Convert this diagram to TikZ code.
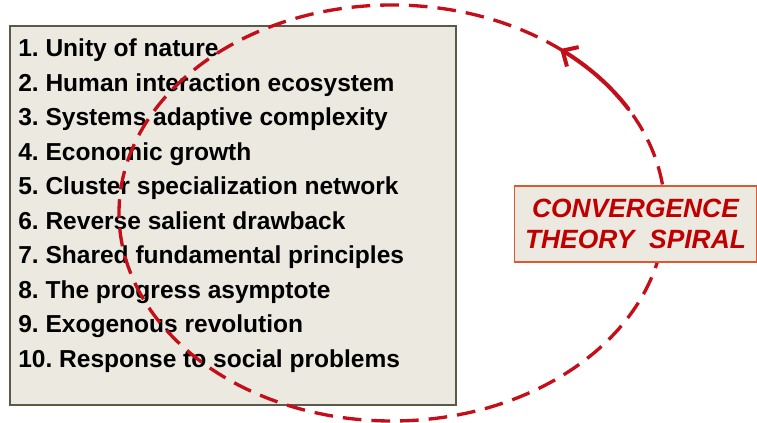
\documentclass[tikz,border=0pt]{standalone}
\usepackage{fontspec}
\setmainfont{Liberation Sans}
\usetikzlibrary{arrows.meta}
\definecolor{boxfill}{HTML}{ECE9E0}
\definecolor{boxline}{HTML}{5B5A48}
\definecolor{spiralred}{HTML}{C40F1A}
\definecolor{titlered}{HTML}{C00000}
\definecolor{titleline}{HTML}{DC5A30}
\begin{document}
\frenchspacing
\begin{tikzpicture}[x=0.75pt,y=-0.75pt,
  listbox/.style={draw=boxline, fill=boxfill, line width=1.5pt, inner sep=0pt,
    minimum width=334.5pt, minimum height=284pt, anchor=north west},
  item/.style={anchor=base west, inner sep=0pt, font=\fontsize{18.4pt}{20pt}\selectfont\bfseries, text=black},
  spiral/.style={draw=spiralred, line width=2.5pt, dash pattern=on 14pt off 7.5pt},
  arrowline/.style={draw=spiralred, line width=3pt, line cap=round, -{Straight Barb[length=9pt,width=17pt]}},
  titlebox/.style={draw=titleline, fill=boxfill, line width=1.3pt, inner sep=0pt,
    minimum width=181.5pt, minimum height=57pt, align=center, text=titlered,
    font=\fontsize{19.8pt}{23.25pt}\selectfont\bfseries\itshape}
]
\useasboundingbox (0,0) rectangle (757,423);
\node[listbox] (list) at (9,25) {};
\foreach \t [count=\i] in {1. Unity of nature, 2. Human interaction ecosystem, 3. Systems adaptive complexity, 4. Economic growth, 5. Cluster specialization network, 6. Reverse salient drawback, 7. Shared fundamental principles, 8. The progress asymptote, 9. Exogenous revolution, 10. Response to social problems}
  \node[item] (l\i) at (18,{56.7+34.5*(\i-1)}) {\t};
\draw[spiral] (392,213) ellipse [x radius=204.75pt, y radius=156pt];
\draw[arrowline] plot[domain=30:52,samples=30] ({392+273*cos(\x)},{213-208*sin(\x)});
\node[titlebox] (title) at (635.5,224) {CONVERGENCE\\THEORY\ \ SPIRAL};
\end{tikzpicture}
\end{document}
